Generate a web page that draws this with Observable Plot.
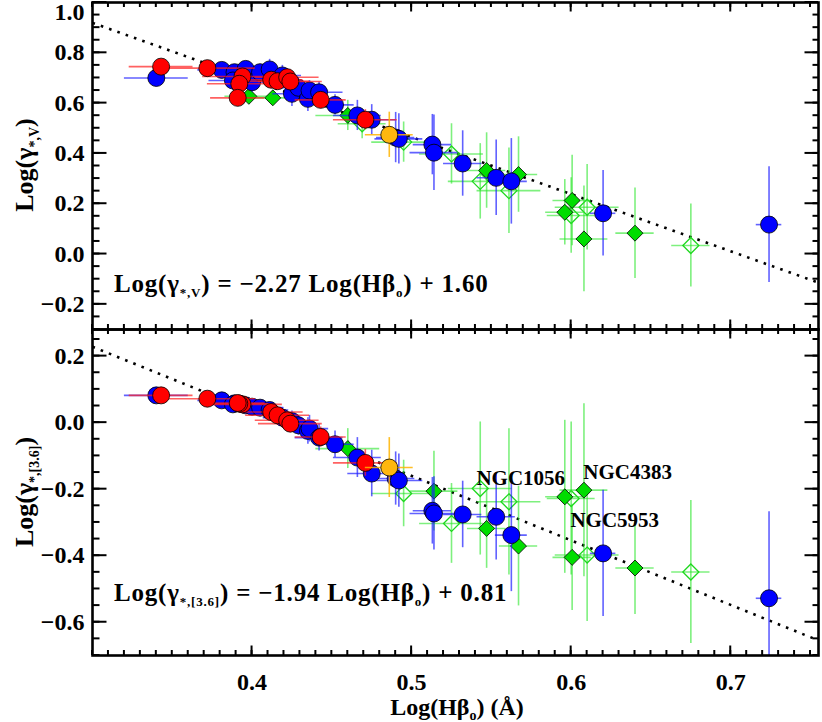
<!DOCTYPE html>
<html><head><meta charset="utf-8">
<script src="https://cdn.jsdelivr.net/npm/d3@7"></script>
<script src="https://cdn.jsdelivr.net/npm/@observablehq/plot@0.6"></script>
<style>
body{margin:0;background:#fff;}
#wrap{position:relative;width:822px;height:722px;overflow:hidden;background:#fff;}
#wrap svg{position:absolute;left:0;}
</style></head><body><div id="wrap"></div>
<script>
// ---------- data ----------
const xMajor = [0.4, 0.5, 0.6, 0.7];
const yMajorV = [-0.2, 0.0, 0.2, 0.4, 0.6, 0.8, 1.0];
const yMajor36 = [-0.6, -0.4, -0.2, 0.0, 0.2];
const xDomain = [0.3, 0.755];
const yDomainV = [-0.3, 1.0];
const yDomain36 = [-0.7, 0.28];

// fit lines (from the equations printed on the chart)
const fitV = [-2.27, 1.60];
const fit36 = [-1.94, 0.81];

// blue circles
const blueX    = [0.340,0.381,0.389,0.388,0.396,0.400,0.405,0.411,0.419,0.425,0.429,0.435,0.436,0.442,0.452,0.466,0.475,0.490,0.492,0.513,0.514,0.532,0.553,0.5625,0.620,0.724];
const blueV    = [0.700,0.732,0.723,0.690,0.736,0.683,0.723,0.734,0.710,0.637,0.661,0.617,0.650,0.643,0.593,0.551,0.534,0.463,0.458,0.435,0.403,0.360,0.303,0.289,0.162,0.117];
const blue36   = [0.082,0.067,0.058,0.055,0.052,0.048,0.045,0.038,0.015,0.005,-0.008,-0.025,-0.018,-0.045,-0.065,-0.105,-0.153,-0.168,-0.174,-0.265,-0.273,-0.276,-0.283,-0.338,-0.393,-0.528];
const blueXerr = [0.020,0.015,0.018,0.015,0.015,0.012,0.015,0.012,0.012,0.012,0.012,0.012,0.012,0.015,0.012,0.015,0.015,0.012,0.015,0.012,0.015,0.012,0.012,0.010,0.008,0.008];
const blueVerr = [0.02,0.03,0.03,0.04,0.03,0.04,0.03,0.04,0.04,0.05,0.04,0.05,0.04,0.04,0.04,0.06,0.06,0.10,0.10,0.12,0.15,0.13,0.15,0.17,0.17,0.23];
const blue36err= [0.01,0.015,0.02,0.02,0.02,0.02,0.02,0.02,0.03,0.03,0.03,0.04,0.04,0.04,0.04,0.06,0.07,0.08,0.08,0.10,0.11,0.10,0.13,0.17,0.19,0.26];

// red circles
const redX    = [0.343,0.372,0.394,0.392,0.391,0.412,0.416,0.422,0.424,0.443,0.471];
const redV    = [0.745,0.739,0.706,0.677,0.621,0.693,0.687,0.703,0.686,0.613,0.534];
const red36   = [0.082,0.072,0.055,0.057,0.059,0.032,0.022,0.007,-0.003,-0.043,-0.121];
const redXerr = [0.020,0.030,0.025,0.020,0.017,0.020,0.020,0.020,0.020,0.016,0.020];
const redVerr = [0.02,0.02,0.03,0.03,0.03,0.03,0.03,0.03,0.03,0.03,0.04];
const red36err= [0.01,0.015,0.02,0.02,0.02,0.02,0.02,0.02,0.02,0.03,0.04];

// orange circle
const orangeX = [0.486], orangeV = [0.474], orange36 = [-0.135];
const orangeXerr = [0.015], orangeVerr = [0.09], orange36err = [0.09];

// green filled diamonds
const gfX    = [0.398,0.413,0.460,0.514,0.547,0.567,0.596,0.6006,0.608,0.640];
const gfV    = [0.627,0.621,0.551,null,0.332,0.316,0.166,0.213,0.060,0.083];
const gf36   = [null,null,-0.078,-0.206,-0.318,-0.371,-0.223,-0.405,-0.203,-0.437];
const gfXerr = [0.015,0.020,0.020,0.015,0.012,0.012,0.012,0.012,0.015,0.012];
const gfVerr = [0.03,0.03,0.06,null,0.15,0.15,0.13,0.18,0.21,0.18];
const gf36err= [null,null,0.06,0.12,0.12,0.18,0.23,0.16,0.26,0.14];

// green open diamonds
const goX    = [0.469,0.495,0.525,0.543,0.561,0.600,0.610,0.675];
const goV    = [0.518,0.445,0.398,0.289,0.252,0.153,0.186,0.034];
const go36   = [null,-0.213,-0.303,-0.198,-0.238,-0.228,-0.398,-0.449];
const goXerr = [0.015,0.020,0.020,0.020,0.020,0.015,0.020,0.012];
const goVerr = [0.06,0.08,0.12,0.15,0.17,0.15,0.17,0.165];
const go36err= [null,0.10,0.12,0.20,0.22,0.23,0.20,0.215];

// annotations (bottom panel)
const annotNames = ["NGC1056", "NGC4383", "NGC5953"];
const annotX = [0.5406, 0.6076, 0.5995];
const annotY = [-0.188, -0.170, -0.314];

// ---------- helpers ----------
const FONT = "'Liberation Serif', 'DejaVu Serif', serif";
const fmt = d3.format(".1f");
const ML = 92, MR = 4, W = 822;
function rows(xs, ys, xe, ye) {
  return xs.map((x, i) => ({x, y: ys[i], xe: xe[i], ye: ye[i]})).filter(d => d.y != null);
}
function groupMarks(data, barColor, dotOpts) {
  return [
    Plot.ruleY(data, {y: "y", x1: d => d.x - d.xe, x2: d => d.x + d.xe, stroke: barColor, strokeWidth: 1.6, clip: true}),
    Plot.ruleX(data, {x: "x", y1: d => d.y - d.ye, y2: d => d.y + d.ye, stroke: barColor, strokeWidth: 1.6, clip: true}),
    Plot.dot(data, {x: "x", y: "y", ...dotOpts})
  ];
}
function rich(sel, parts, subSize, subShift) {
  let shift = 0;
  parts.forEach(([t, sub]) => {
    const ts = sel.append("tspan").text(t);
    if (sub) { ts.attr("font-size", subSize).attr("dy", subShift - shift); shift = subShift; }
    else { if (shift) ts.attr("dy", -shift); shift = 0; }
  });
}

function makePanel(cfg) {
  const k = cfg.key;
  const blue = rows(blueX, k === "V" ? blueV : blue36, blueXerr, k === "V" ? blueVerr : blue36err);
  const red = rows(redX, k === "V" ? redV : red36, redXerr, k === "V" ? redVerr : red36err);
  const orange = rows(orangeX, k === "V" ? orangeV : orange36, orangeXerr, k === "V" ? orangeVerr : orange36err);
  const gf = rows(gfX, k === "V" ? gfV : gf36, gfXerr, k === "V" ? gfVerr : gf36err);
  const go = rows(goX, k === "V" ? goV : go36, goXerr, k === "V" ? goVerr : go36err);
  const fit = k === "V" ? fitV : fit36;
  const fitLine = xDomain.map(x => ({x, y: fit[0] * x + fit[1]}));
  const yMajor = k === "V" ? yMajorV : yMajor36;

  const marks = [
    Plot.line(fitLine, {x: "x", y: "y", stroke: "black", strokeWidth: 2.6, strokeDasharray: "2.6 6.2", strokeLinecap: "butt", clip: true}),
    ...groupMarks(go, "rgba(40,230,40,0.6)", {symbol: "diamond2", r: 7.2, fill: "none", stroke: "#1ed81e", strokeWidth: 1.3}),
    ...groupMarks(gf, "rgba(40,230,40,0.6)", {symbol: "diamond2", r: 7.2, fill: "#00dd00", stroke: "black", strokeWidth: 0.8}),
    ...groupMarks(blue, "rgba(30,30,255,0.7)", {r: 8.5, fill: "#0000ff", stroke: "black", strokeWidth: 0.8}),
    ...groupMarks(red, "rgba(255,30,30,0.7)", {r: 8.5, fill: "#ff0000", stroke: "black", strokeWidth: 0.8}),
    ...groupMarks(orange, "rgba(255,180,0,0.85)", {r: 8.5, fill: "#ffb70f", stroke: "black", strokeWidth: 0.8}),
    Plot.axisY({ticks: yMajor.filter(v => v !== 1.0), tickSize: 0, tickPadding: 8, fontSize: 24, tickFormat: fmt, label: null}),
    Plot.frame({stroke: "black", strokeWidth: 2.6})
  ];
  if (k === "V") {
    marks.push(Plot.text([1.0], {y: d => d, frameAnchor: "left", dx: -8, dy: 10, textAnchor: "end", text: d => fmt(d), fontSize: 24}));
  } else {
    marks.push(Plot.axisX({ticks: xMajor, tickSize: 0, tickPadding: 17, fontSize: 24, tickFormat: fmt, label: null}));
    const annots = annotNames.map((t, i) => ({t, x: annotX[i], y: annotY[i]}));
    marks.push(Plot.text(annots, {x: "x", y: "y", text: "t", textAnchor: "start", lineAnchor: "bottom", fontSize: 21, fontWeight: "bold", fill: "black"}));
  }
  const svgEl = Plot.plot({
    width: W, height: cfg.height,
    marginLeft: ML, marginRight: MR, marginTop: cfg.marginTop, marginBottom: cfg.marginBottom,
    x: {domain: xDomain, axis: null},
    y: {domain: cfg.yDomain, axis: null},
    style: {fontFamily: FONT, fontWeight: "bold", background: "transparent", overflow: "visible", color: "black"},
    marks
  });

  // inward ticks on all four sides, placed with the plot's own scales
  const sx = svgEl.scale("x"), sy = svgEl.scale("y");
  const [xa, xb] = sx.range, [ya, yb] = sy.range; // ya = bottom px, yb = top px
  const xMinor = d3.range(30, 76).map(d => d / 100);
  const yMinor = d3.range(Math.ceil(cfg.yDomain[0] * 20), Math.floor(cfg.yDomain[1] * 20) + 1).map(d => d / 20);
  const g = d3.select(svgEl).append("g").attr("stroke", "black").attr("stroke-width", 2).attr("fill", "none");
  const yBot = Math.max(ya, yb), yTop = Math.min(ya, yb);
  const xL = Math.min(xa, xb), xR = Math.max(xa, xb);
  const seg = (x1, y1, x2, y2) => g.append("line").attr("x1", x1).attr("y1", y1).attr("x2", x2).attr("y2", y2);
  for (const v of xMinor) { const px = sx.apply(v); seg(px, yBot, px, yBot - 5); seg(px, yTop, px, yTop + 5); }
  for (const v of xMajor) { const px = sx.apply(v); seg(px, yBot, px, yBot - 9.5); seg(px, yTop, px, yTop + 9.5); }
  for (const v of yMinor) { const py = sy.apply(v); seg(xL, py, xL + 7.5, py); seg(xR, py, xR - 5.5, py); }
  for (const v of yMajor) { const py = sy.apply(v); seg(xL, py, xL + 14.5, py); seg(xR, py, xR - 13.5, py); }
  return svgEl;
}

const wrap = document.getElementById("wrap");
const topPanel = makePanel({key: "V", yDomain: yDomainV, height: 330, marginTop: 2, marginBottom: 1});
const botPanel = makePanel({key: "36", yDomain: yDomain36, height: 394, marginTop: 1, marginBottom: 67});
topPanel.style.top = "0px";
botPanel.style.top = "328px";
wrap.appendChild(topPanel);
wrap.appendChild(botPanel);

function eqText(fit) {
  return fit[0] < 0 ? "\u2212" + Math.abs(fit[0]).toFixed(2) : fit[0].toFixed(2);
}
function addText(svg, attrs) {
  const t = svg.append("text").attr("font-weight", "bold").attr("fill", "black").attr("text-anchor", "start");
  Object.entries(attrs).forEach(([k, v]) => t.attr(k, v));
  return t;
}
{
  const svg = d3.select(topPanel);
  const t = addText(svg, {transform: "translate(33,165) rotate(-90)", "text-anchor": "middle", "font-size": 26});
  rich(t, [["Log(\u03b3", false], ["*,V", true], [")", false]], 14, 6);
  const e = addText(svg, {x: 114, y: 292, "font-size": 25, "letter-spacing": 0.8});
  rich(e, [["Log(\u03b3", false], ["*,V", true], [") = " + eqText(fitV) + " Log(H\u03b2", false], ["o", true], [") + " + fitV[1].toFixed(2), false]], 13, 5);
}
{
  const svg = d3.select(botPanel);
  const t = addText(svg, {transform: "translate(33,164) rotate(-90)", "text-anchor": "middle", "font-size": 26});
  rich(t, [["Log(\u03b3", false], ["*,[3.6]", true], [")", false]], 14, 6);
  const e = addText(svg, {x: 114, y: 273, "font-size": 25, "letter-spacing": 0.8});
  rich(e, [["Log(\u03b3", false], ["*,[3.6]", true], [") = " + eqText(fit36) + " Log(H\u03b2", false], ["o", true], [") + " + fit36[1].toFixed(2), false]], 13, 5);
  const xt = addText(svg, {x: 457, y: 387, "text-anchor": "middle", "font-size": 24});
  rich(xt, [["Log(H\u03b2", false], ["o", true], [") (\u00c5)", false]], 14, 5);
}
</script></body></html>
